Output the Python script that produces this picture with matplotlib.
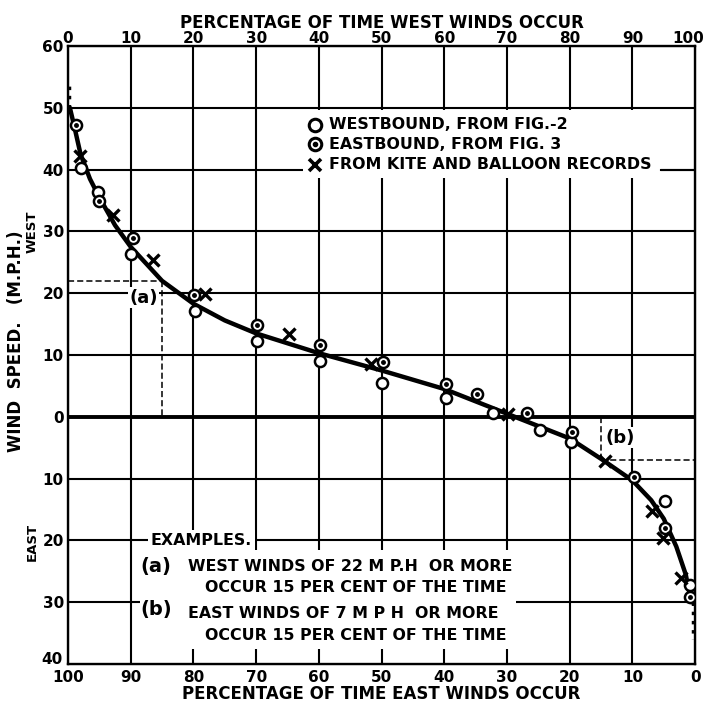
import numpy as np
import matplotlib.pyplot as plt
from matplotlib.transforms import ScaledTranslation

# percentage of time west winds occur (top axis), wind speed (+ west, - east)
west_x = [2.0, 4.8, 10.0, 20.3, 30.1, 40.2, 50.1, 60.2, 67.7, 75.3, 80.2, 95.2, 99.2]
west_y = [40.2, 36.4, 26.3, 17.2, 12.3, 9.0, 5.5, 3.1, 0.6, -2.1, -4.0, -13.7, -27.2]

east_x = [1.2, 5.0, 10.3, 20.1, 30.1, 40.2, 50.3, 60.2, 65.2, 73.2, 80.3, 90.2, 95.2, 99.2]
east_y = [47.3, 35.0, 28.9, 19.7, 14.9, 11.6, 8.8, 5.3, 3.7, 0.6, -2.4, -9.8, -18.0, -29.1]

kite_x = [1.9, 7.2, 13.5, 21.8, 35.2, 48.3, 70.2, 85.6, 93.1, 94.9, 97.7]
kite_y = [42.2, 32.7, 25.3, 19.9, 13.4, 8.6, 0.4, -7.2, -15.2, -19.6, -26.1]

curve_x = [0.3, 1, 2, 3.5, 5, 7.5, 10, 15, 20, 25, 30, 40, 50, 60, 70, 75, 80, 85, 90, 93, 95, 97, 98.5, 99.4]
curve_y = [50, 47, 42.5, 38.5, 35.5, 31, 27.5, 22, 18.3, 15.6, 13.5, 10.3, 7.5, 4.5, 0.5, -1.5, -3.5, -6.8, -10.3, -13.5, -16.5, -21, -25.5, -30]
dot_top_y = [50, 54]
dot_bot_y = [-30, -36]

x_ticks = [0, 10, 20, 30, 40, 50, 60, 70, 80, 90, 100]
y_ticks = [60, 50, 40, 30, 20, 10, 0, -10, -20, -30, -40]

fs = 11
tfs = 11.4
fig = plt.figure(figsize=(7.07, 7.03), dpi=100)
ax = fig.add_axes([0.0962, 0.0555, 0.887, 0.879])
ax.set_xlim(0, 100)
ax.set_ylim(-40, 60)

for xv in x_ticks[1:-1]:
    ax.axvline(xv, color='black', lw=1.5, zorder=1)
for yv in y_ticks[1:-1]:
    ax.axhline(yv, color='black', lw=2.8 if yv == 0 else 1.5, zorder=1)

for s in ax.spines.values():
    s.set_linewidth(1.7)

# example guide lines
ax.plot([0, 15], [22, 22], ls=(0, (4, 2)), color='black', lw=1.1, zorder=2)
ax.plot([15, 15], [22, 0], ls=(0, (4, 2)), color='black', lw=1.1, zorder=2)
ax.plot([85, 85], [0, -7], ls=(0, (4, 2)), color='black', lw=1.1, zorder=2)
ax.plot([85, 100], [-7, -7], ls=(0, (4, 2)), color='black', lw=1.1, zorder=2)
ax.text(12, 19.3, '(a)', fontsize=13, fontweight='bold', ha='center', va='center',
        bbox=dict(facecolor='white', edgecolor='none', pad=1), zorder=3)
ax.text(88, -3.4, '(b)', fontsize=13, fontweight='bold', ha='center', va='center',
        bbox=dict(facecolor='white', edgecolor='none', pad=1), zorder=3)

# fitted curve
ax.plot(curve_x, curve_y, color='black', lw=3.2, zorder=4, solid_capstyle='round')
ax.plot([0.2, 0.2], dot_top_y, color='black', lw=2.5, ls=':', zorder=4)
ax.plot([99.6, 99.6], dot_bot_y, color='black', lw=2.5, ls=':', zorder=4)

# data points
ax.plot(west_x, west_y, 'o', ms=8, mfc='white', mec='black', mew=1.8, zorder=5)
ax.plot(east_x, east_y, 'o', ms=8, mfc='white', mec='black', mew=1.8, zorder=5)
ax.plot(east_x, east_y, 'o', ms=2.5, color='black', zorder=6)
ax.plot(kite_x, kite_y, 'x', ms=9, mec='black', mew=2.4, zorder=5)

# legend
ax.add_patch(plt.Rectangle((37.5, 38.7), 57, 10.9, facecolor='white', edgecolor='none', zorder=2))
leg_y = [47.3, 44.1, 40.8]
ax.plot([39.4], [leg_y[0]], 'o', ms=9, mfc='white', mec='black', mew=2.2, zorder=5)
ax.plot([39.4], [leg_y[1]], 'o', ms=9, mfc='white', mec='black', mew=2.2, zorder=5)
ax.plot([39.4], [leg_y[1]], 'o', ms=3, color='black', zorder=6)
ax.plot([39.4], [leg_y[2]], 'x', ms=9, mec='black', mew=2.6, zorder=5)
leg_text = ['WESTBOUND, FROM FIG.-2', 'EASTBOUND, FROM FIG. 3', 'FROM KITE AND BALLOON RECORDS']
for yy, t in zip(leg_y, leg_text):
    ax.text(41.6, yy, t, fontsize=tfs, fontweight='bold', va='center', ha='left', zorder=6)
ax.plot([94.6, 100], [40, 40], color='black', lw=1.5, zorder=3)

# examples box
ax.add_patch(plt.Rectangle((11.5, -37.5), 60, 16, facecolor='white', edgecolor='none', zorder=2))
ax.text(13.2, -20, 'EXAMPLES.', fontsize=tfs, fontweight='bold', va='center', zorder=6,
        bbox=dict(facecolor='white', edgecolor='none', pad=2))
ax.text(11.6, -24.3, '(a)', fontsize=14, fontweight='bold', va='center', zorder=6)
ax.text(19.2, -24.3, 'WEST WINDS OF 22 M P.H  OR MORE', fontsize=tfs, fontweight='bold', va='center', zorder=6)
ax.text(21.8, -27.6, 'OCCUR 15 PER CENT OF THE TIME', fontsize=tfs, fontweight='bold', va='center', zorder=6)
ax.text(11.6, -31.2, '(b)', fontsize=14, fontweight='bold', va='center', zorder=6)
ax.text(19.2, -31.8, 'EAST WINDS OF 7 M P H  OR MORE', fontsize=tfs, fontweight='bold', va='center', zorder=6)
ax.text(21.8, -35.4, 'OCCUR 15 PER CENT OF THE TIME', fontsize=tfs, fontweight='bold', va='center', zorder=6)

# axes ticks
ax.set_yticks(y_ticks)
ax.set_yticklabels([str(abs(v)) for v in y_ticks], fontsize=fs, fontweight='bold')
ax.set_xticks(x_ticks)
ax.set_xticklabels([str(100 - v) for v in x_ticks], fontsize=fs, fontweight='bold')
ax.tick_params(axis='y', length=0, pad=3)
ax.tick_params(axis='x', length=0, pad=4)
ax.set_xlabel('PERCENTAGE OF TIME EAST WINDS OCCUR', fontsize=12, fontweight='bold', labelpad=0)
low = ax.yaxis.get_major_ticks()[-1].label1
low.set_transform(low.get_transform() + ScaledTranslation(-1 / 72, 4 / 72, fig.dpi_scale_trans))

top = ax.twiny()
top.set_xlim(0, 100)
top.set_xticks(x_ticks)
top.set_xticklabels([str(v) for v in x_ticks], fontsize=fs, fontweight='bold')
top.tick_params(length=0, pad=0)
top.set_xlabel('PERCENTAGE OF TIME WEST WINDS OCCUR', fontsize=12, fontweight='bold', labelpad=2)
last = top.xaxis.get_major_ticks()[-1].label2
last.set_transform(last.get_transform() + ScaledTranslation(-5 / 72, 0, fig.dpi_scale_trans))

fig.text(0.022, 0.515, 'WIND  SPEED.   (M.P.H.)', rotation=90, fontsize=12,
         fontweight='bold', ha='center', va='center')
ax.text(-0.057, 0.70, 'WEST', transform=ax.transAxes, rotation=90, fontsize=9.5,
        fontweight='bold', ha='center', va='center')
ax.text(-0.057, 0.197, 'EAST', transform=ax.transAxes, rotation=90, fontsize=9.5,
        fontweight='bold', ha='center', va='center')

fig.savefig('out.png', dpi=100)
